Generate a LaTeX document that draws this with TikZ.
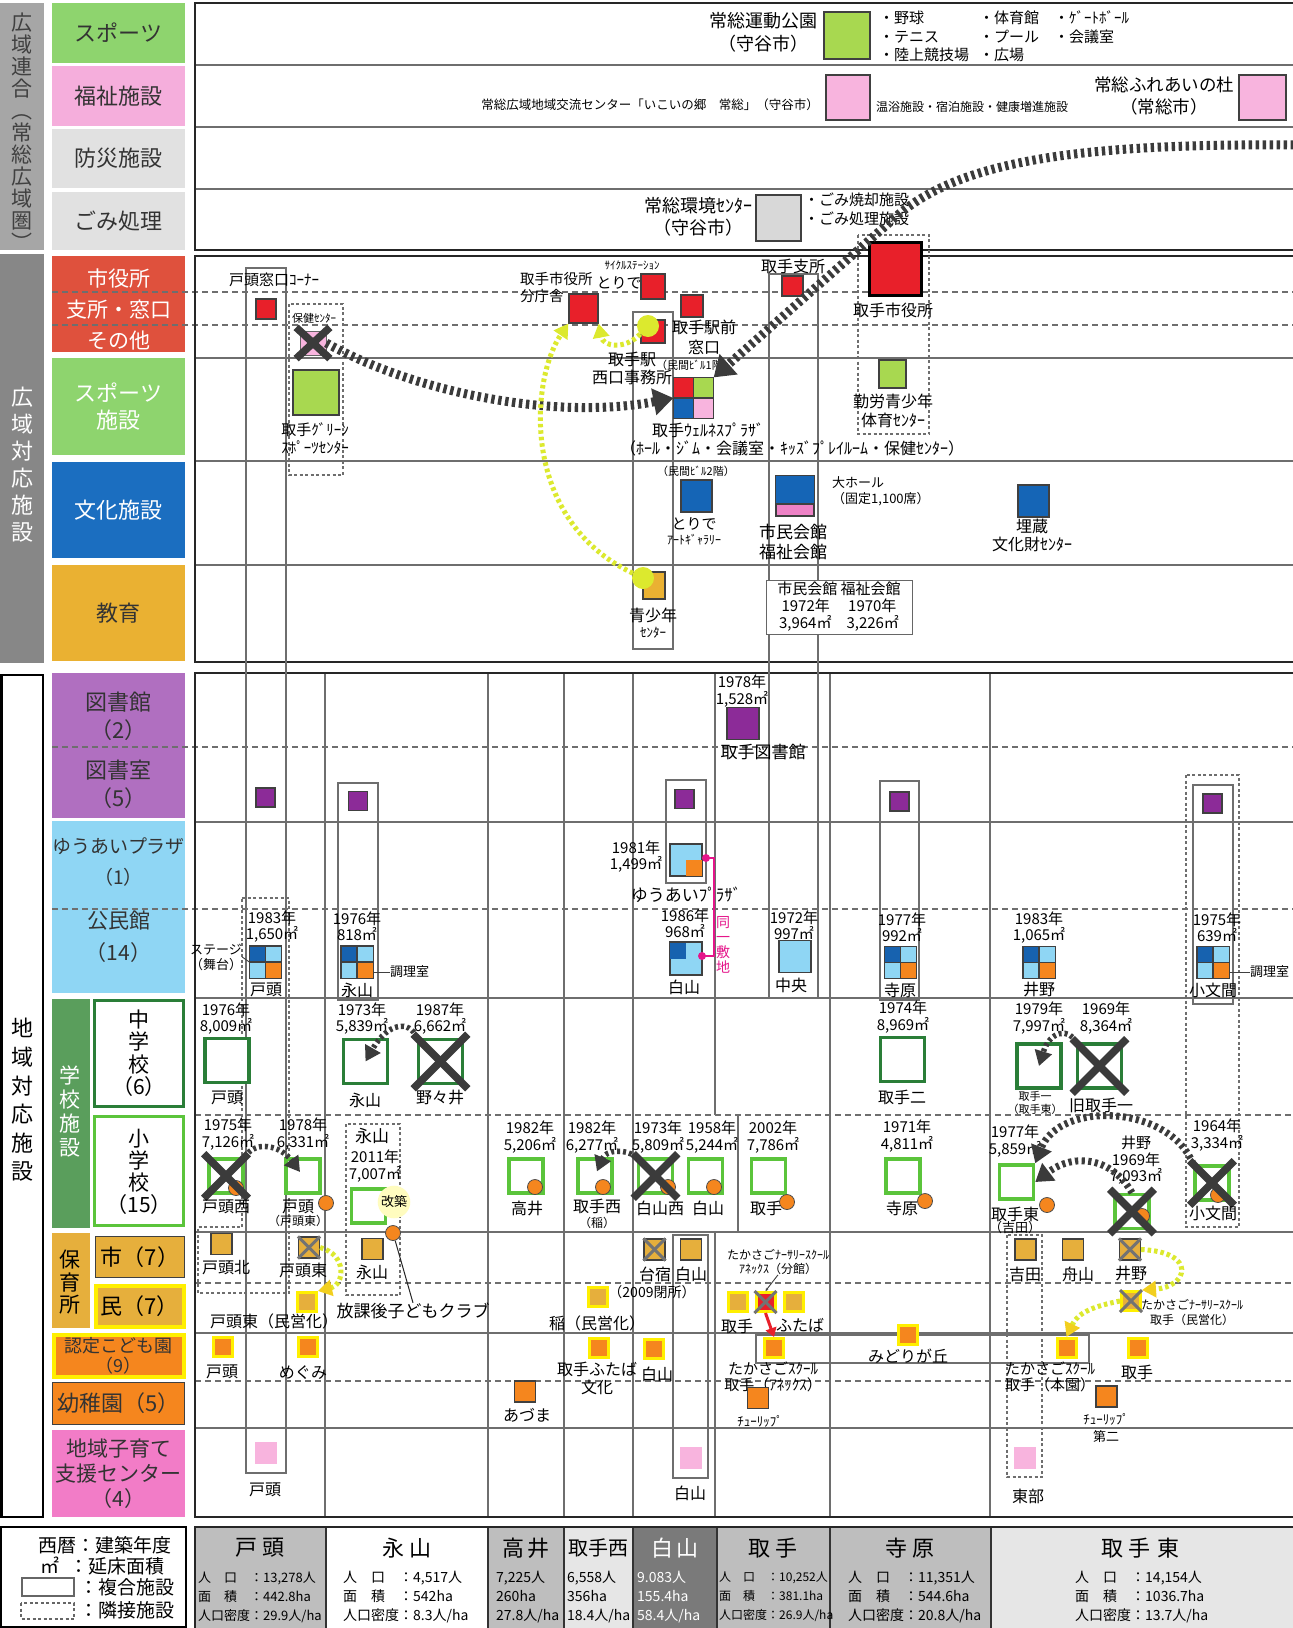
\documentclass[tikz,border=0pt]{standalone}
\usepackage{fontspec}
\setmainfont{Noto Sans CJK JP}
\usetikzlibrary{arrows.meta}

\definecolor{bandlt}{HTML}{A6A6A6}
\definecolor{banddk}{HTML}{878787}
\definecolor{catgreen}{HTML}{8ED46E}
\definecolor{catpink}{HTML}{F5AEDC}
\definecolor{catgray}{HTML}{E1E1E1}
\definecolor{catred}{HTML}{DF513D}
\definecolor{catblue}{HTML}{1B6EC0}
\definecolor{catorange}{HTML}{EAB132}
\definecolor{catpurple}{HTML}{B06FC0}
\definecolor{catsky}{HTML}{8FD6F4}
\definecolor{catschool}{HTML}{5A9E5C}
\definecolor{catkosodate}{HTML}{F27CC7}
\definecolor{fred}{HTML}{E8202A}
\definecolor{fgreen}{HTML}{A8D850}
\definecolor{fpink}{HTML}{F8B4DE}
\definecolor{fmagenta}{HTML}{EE82C6}
\definecolor{fgray}{HTML}{D8D8D8}
\definecolor{fblue}{HTML}{1565B6}
\definecolor{fpurple}{HTML}{8C2B98}
\definecolor{fnavy}{HTML}{1762AF}
\definecolor{forange}{HTML}{F5861E}
\definecolor{fhoiku}{HTML}{E6AF3C}
\definecolor{fyellow}{HTML}{FFEF00}
\definecolor{jhgreen}{HTML}{2A7E38}
\definecolor{esgreen}{HTML}{5BC43B}
\definecolor{kimidori}{HTML}{DCE92E}
\definecolor{kiiro}{HTML}{F2CF1E}
\definecolor{tie}{HTML}{3B3B3B}
\definecolor{linegray}{HTML}{6E6E6E}
\definecolor{tpink}{HTML}{E5158A}
\definecolor{tgray}{HTML}{BEBEBE}
\definecolor{tgraylt}{HTML}{E6E6E6}
\definecolor{tgraydk}{HTML}{7A7A7A}

\newcommand{\fsz}[2]{\fontsize{#1}{#2}\selectfont}
\newcommand{\batsu}[1]{%
  \draw[xline] (#1.north west) -- (#1.south east);
  \draw[xline] (#1.north east) -- (#1.south west);}
\newcommand{\gbatsu}[1]{%
  \draw[gx] (#1.north west) -- (#1.south east);
  \draw[gx] (#1.north east) -- (#1.south west);}
\newcommand{\kmk}[2]{%
  \node[fac, minimum size=31pt] (#1) at (#2) {};
  \fill[fnavy] (#1.north west) rectangle (#1.center);
  \fill[catsky] (#1.north) rectangle (#1.east);
  \fill[catsky] (#1.west) rectangle (#1.south);
  \fill[forange] (#1.center) rectangle (#1.south east);
  \draw[black!75, line width=1.2pt] (#1.north west) rectangle (#1.south east)
    (#1.north) -- (#1.south) (#1.west) -- (#1.east);}

\tikzset{
  cat/.style={fill=#1, inner sep=0pt, align=center, text=black!80, font=\fsz{22}{27}, minimum width=133pt},
  ctext/.style={inner sep=0pt, align=center, text=black!80, font=\fsz{22}{28}},
  vtext/.style={inner sep=0pt, align=center},
  fac/.style={draw=black!75, line width=1.2pt, inner sep=0pt},
  lbl/.style={inner sep=0pt, align=center, font=\fsz{16}{18}},
  yr/.style={inner sep=0pt, align=center, font=\fsz{15}{16.5}},
  tiny/.style={inner sep=0pt, align=center, font=\fsz{11}{12.5}},
  rule/.style={draw=linegray, line width=1.3pt},
  ruledash/.style={draw=linegray, line width=1.3pt, dash pattern=on 6pt off 4pt},
  frm/.style={draw=black!85, line width=2.5pt},
  col/.style={draw=linegray, line width=1.6pt},
  adj/.style={draw=linegray, line width=1.3pt, dash pattern=on 3pt off 2.5pt},
  jhs/.style={draw=jhgreen, line width=3.5pt, fill=white, inner sep=0pt, minimum size=44pt},
  els/.style={draw=esgreen, line width=3.5pt, fill=white, inner sep=0pt, minimum size=34pt},
  hoi/.style={fac, fill=fhoiku, minimum size=21pt},
  minei/.style={fill=fhoiku, draw=fyellow, line width=3pt, inner sep=0pt, minimum size=19pt},
  nintei/.style={fill=forange, draw=fyellow, line width=3pt, inner sep=0pt, minimum size=19pt},
  yochi/.style={fac, fill=forange, minimum size=21pt},
  kosodate/.style={fill=fpink, inner sep=0pt, minimum size=22pt},
  oc/.style={circle, fill=forange, draw=black!70, line width=0.8pt, inner sep=0pt, minimum size=15pt},
  yc/.style={circle, fill=kimidori, inner sep=0pt, minimum size=22pt},
  xline/.style={draw=tie, line width=7.5pt, shorten <=-5pt, shorten >=-5pt},
  gx/.style={draw=black!55, line width=3pt},
  leader/.style={draw=black!75, line width=0.9pt},
  tiearrow/.style={draw=tie, line width=9pt, dash pattern=on 3.4pt off 3.6pt,
    -{Triangle[length=20pt,width=26pt]}},
  tiearrowmd/.style={draw=tie, line width=7pt, dash pattern=on 3.2pt off 3.4pt,
    -{Triangle[length=17pt,width=21pt]}},
  tiearrowsm/.style={draw=tie, line width=5.5pt, dash pattern=on 3pt off 3pt,
    -{Triangle[length=15pt,width=17pt]}},
  ydot/.style={draw=kimidori, line width=5pt, dash pattern=on 3.5pt off 3pt,
    -{Triangle[length=14pt,width=16pt]}},
  ydotn/.style={draw=kimidori, line width=5pt, dash pattern=on 3.5pt off 3pt,
    -{Triangle[length=14pt,width=16pt,color=kiiro,fill=kiiro]}},
  tbl/.style={inner sep=0pt, align=left, anchor=west, font=\fsz{14}{19}},
  ttl/.style={inner sep=0pt, font=\fsz{22}{24}},
}

\begin{document}
\begin{tikzpicture}[x=1pt,y=-1pt]
  \useasboundingbox (0,0) rectangle (1293,1628);
  \fill[white] (0,0) rectangle (1293,1628);

  % side bands
  \fill[bandlt] (0,3) rectangle (44,250);
  \node[vtext, text=black!75, font=\fsz{21}{22}] (b-rengo) at (22,132) {広\\域\\連\\合\\︵\\常\\総\\広\\域\\圏\\︶};
  \fill[banddk] (0,254) rectangle (44,663);
  \node[vtext, text=white, font=\fsz{22}{27}] (b-kouiki) at (22,465) {広\\域\\対\\応\\施\\設};
  \draw[line width=2.5pt] (1.25,675) rectangle (43,1517);
  \node[vtext, font=\fsz{22}{28.6}] (b-chiiki) at (22,1100) {地\\域\\対\\応\\施\\設};

  % categories
  \node[cat=catgreen, minimum height=60pt] (c-sports) at (118.5,33) {スポーツ};
  \node[cat=catpink, minimum height=60pt] (c-fukushi) at (118.5,96) {福祉施設};
  \node[cat=catgray, minimum height=59pt] (c-bousai) at (118.5,158.5) {防災施設};
  \node[cat=catgray, minimum height=58pt] (c-gomi) at (118.5,221) {ごみ処理};
  \node[cat=catred, minimum height=96pt] (c-shiyaku) at (118.5,304) {};
  \node[ctext, text=white, font=\fsz{21}{31}] (t-shiyaku) at (118.5,309) {市役所\\支所・窓口\\その他};
  \node[cat=catgreen, text=white, minimum height=97pt] (c-sportf) at (118.5,406.5) {スポーツ\\施設};
  \node[cat=catblue, text=white, minimum height=96pt] (c-bunka) at (118.5,510) {文化施設};
  \node[cat=catorange, minimum height=96pt] (c-kyoiku) at (118.5,613) {教育};
  \node[cat=catpurple, minimum height=145pt] (c-tosho) at (118.5,745.5) {};
  \node[ctext] (t-tosho1) at (118.5,716) {図書館\\（2）};
  \node[ctext] (t-tosho2) at (118.5,784) {図書室\\（5）};
  \node[cat=catsky, minimum height=172pt] (c-kominkan) at (118.5,907) {};
  \node[ctext, font=\fsz{19}{31}] (t-yuai) at (118.5,862.5) {ゆうあいプラザ\\（1）};
  \node[ctext, font=\fsz{21}{32}] (t-kominkan) at (118.5,937) {公民館\\（14）};
  \node[fill=catschool, inner sep=0pt, minimum width=38pt, minimum height=229pt] (c-gakko) at (71,1113.5) {};
  \node[vtext, text=white, font=\fsz{21}{24}] (t-gakko) at (70,1111) {学\\校\\施\\設};
  \node[draw=jhgreen, line width=3.5pt, inner sep=0pt, minimum width=89pt, minimum height=106pt] (c-chugaku) at (139,1053.5) {};
  \node[vtext, font=\fsz{21}{22.5}] (t-chugaku) at (139,1053) {中\\学\\校\\（6）};
  \node[draw=esgreen, line width=3.5pt, inner sep=0pt, minimum width=89pt, minimum height=109pt] (c-shogaku) at (139,1171) {};
  \node[vtext, font=\fsz{21}{22}] (t-shogaku) at (139,1172) {小\\学\\校\\（15）};
  \node[fill=fhoiku, inner sep=0pt, minimum width=38pt, minimum height=95pt] (c-hoiku) at (71,1280.5) {};
  \node[vtext, font=\fsz{21}{22.5}] (t-hoiku) at (70,1282.5) {保\\育\\所};
  \node[fac, fill=fhoiku, minimum width=89pt, minimum height=41pt, font=\fsz{22}{24}] (c-shi) at (140,1257) {市（7）};
  \node[fill=fhoiku, draw=fyellow, line width=4pt, inner sep=0pt, minimum width=88pt, minimum height=41pt, font=\fsz{22}{24}] (c-min) at (139.5,1306) {民（7）};
  \node[cat=forange, draw=fyellow, line width=4pt, minimum width=130pt, minimum height=42pt, font=\fsz{18}{20}] (c-nintei) at (118.5,1355.5) {認定こども園\\（9）};
  \node[cat=forange, draw=black!75, line width=1.5pt, minimum width=132pt, minimum height=42pt] (c-yochi) at (118.5,1403.5) {幼稚園（5）};
  \node[cat=catkosodate, minimum height=87pt, font=\fsz{21}{25}] (c-kosodate) at (118.5,1473.5) {地域子育て\\支援センター\\（4）};

  % section 1 frame
  \draw[rule] (195,65) -- (1293,65) (195,127) -- (1293,127) (195,189) -- (1293,189);
  \draw[frm] (195,3) rectangle (1294,250);

  % section 2 frame
  \draw[rule] (195,358) -- (1293,358) (195,461) -- (1293,461) (195,565) -- (1293,565);
  \draw[ruledash] (52,292) -- (1293,292) (52,325) -- (1293,325);
  \draw[frm] (195,256) rectangle (1294,662);

  % section 3 frame
  \draw[rule] (195,822) -- (1293,822) (195,998) -- (1293,998) (195,1232) -- (1293,1232)
    (195,1333) -- (1293,1333) (195,1428) -- (1293,1428);
  \draw[ruledash] (52,747) -- (1293,747) (52,909) -- (1293,909) (195,1115) -- (1293,1115)
    (195,1283) -- (1293,1283) (195,1381) -- (1293,1381);
  \draw[rule] (325,673) -- (325,1517) (488,673) -- (488,1517) (564,673) -- (564,1517)
    (633,673) -- (633,1517) (830,673) -- (830,1517) (990,673) -- (990,1517)
    (715,673) -- (715,1115) (738,1115) -- (738,1232) (715,1232) -- (715,1517);
  \draw[frm] (195,673) rectangle (1294,1517);

  % composite and adjacent outlines
  \draw[col] (246,268) rectangle (286,1473);
  \draw[col] (633,312) rectangle (673,649);
  \draw[col] (769,274) rectangle (818,998);
  \draw[col] (338,783) rectangle (378,1000);
  \draw[col] (666,780) rectangle (706,883);
  \draw[col] (880,781) rectangle (919,1000);
  \draw[col] (1193,785) rectangle (1233,1004);
  \draw[col] (673,1235) rectangle (708,1478);
  \draw[col] (756,1335) rectangle (1089,1363);
  \draw[adj] (289,304) rectangle (343,475);
  \draw[adj] (858,235) rectangle (929,434);
  \draw[adj] (1186,775) rectangle (1239,1227);
  \draw[adj] (1007,1235) rectangle (1042,1477);
  \draw[adj] (346,1124) rectangle (400,1295);
  \draw[adj] (242,898) -- (289,898) -- (289,1293) -- (198,1293) -- (198,1227) -- (242,1227) -- cycle;

  % section 1 contents
  \node[lbl, font=\fsz{18}{23}] (t-undo) at (763,32.5) {常総運動公園\\（守谷市）};
  \node[fac, fill=fgreen, minimum width=46pt, minimum height=47pt] (undo) at (847,35.5) {};
  \node[lbl, align=left, anchor=west, font=\fsz{15}{18.5}] (t-undo1) at (879,36.5) {・野球\\・テニス\\・陸上競技場};
  \node[lbl, align=left, anchor=west, font=\fsz{15}{18.5}] (t-undo2) at (979,36.5) {・体育館\\・プール\\・広場};
  \node[lbl, align=left, anchor=west, font=\fsz{15}{18.5}] (t-undo3) at (1054,27.5) {・ｹﾞｰﾄﾎﾞｰﾙ\\・会議室};
  \node[lbl, font=\fsz{12.5}{14}] (t-ikoi) at (650,105) {常総広域地域交流センター「いこいの郷　常総」（守谷市）};
  \node[fac, fill=fpink, minimum width=44pt, minimum height=45pt] (ikoi) at (848,97.5) {};
  \node[lbl, anchor=west, font=\fsz{12}{14}] (t-ikoi2) at (876,107) {温浴施設・宿泊施設・健康増進施設};
  \node[lbl, font=\fsz{17.5}{22}] (t-fureai) at (1164,96) {常総ふれあいの杜\\（常総市）};
  \node[fac, fill=fpink, minimum width=47pt, minimum height=45pt] (fureai) at (1262.5,97.5) {};
  \node[lbl, font=\fsz{18}{22}] (t-kankyo) at (698,217) {常総環境ｾﾝﾀｰ\\（守谷市）};
  \node[fac, fill=fgray, minimum width=45pt, minimum height=46pt] (kankyo) at (778.5,218) {};
  \node[lbl, align=left, anchor=west, font=\fsz{15}{18.5}] (t-kankyo2) at (804,209.5) {・ごみ焼却施設\\・ごみ処理施設};

  % section 2 contents
  \node[lbl, font=\fsz{15}{17}] (t-todemado) at (274,280) {戸頭窓口ｺｰﾅｰ};
  \node[fac, fill=fred, minimum size=20pt] (todemado) at (266,309) {};
  \node[fill=fpink, draw=black!60, inner sep=0pt, minimum width=26pt, minimum height=24pt] (hoken) at (313,343) {};
  \node[tiny] (t-hoken) at (314,318) {保健ｾﾝﾀｰ};
  \node[fac, fill=fgreen, minimum width=46pt, minimum height=45pt] (green) at (316,392.5) {};
  \node[lbl, font=\fsz{15}{18}] (t-green) at (315,439) {取手ｸﾞﾘｰﾝ\\ｽﾎﾟｰﾂｾﾝﾀｰ};
  \node[lbl, align=left, anchor=west, font=\fsz{14.5}{17}] (t-bunchosha) at (520,287) {取手市役所\\分庁舎};
  \node[fac, fill=fred, minimum size=29pt] (bunchosha) at (583.5,308.5) {};
  \node[tiny] (t-cycle1) at (632,265) {ｻｲｸﾙｽﾃｰｼｮﾝ};
  \node[lbl, font=\fsz{15}{17}] (t-cycle2) at (619,283) {とりで};
  \node[fac, fill=fred, minimum width=24pt, minimum height=25pt] (cycle) at (653,286.5) {};
  \node[fac, fill=fred, minimum width=24pt, minimum height=23pt] (nishiguchi) at (653,331.5) {};
  \node[yc] (yc1) at (648,326) {};
  \node[lbl] (t-nishiguchi) at (632,368) {取手駅\\西口事務所};
  \node[fac, fill=fred, minimum size=22pt] (ekimae) at (692,306) {};
  \node[lbl, font=\fsz{16}{20}] (t-ekimae) at (704,337) {取手駅前\\窓口};
  \node[tiny] (t-minkan1) at (695,365) {（民間ﾋﾞﾙ1階）};
  \node[fac, minimum width=39pt, minimum height=40pt] (wellness) at (693.5,398) {};
  \fill[fred] (wellness.north west) rectangle (wellness.center);
  \fill[fgreen] (wellness.north) rectangle (wellness.east);
  \fill[fblue] (wellness.west) rectangle (wellness.south);
  \fill[fpink] (wellness.center) rectangle (wellness.south east);
  \draw[black!75, line width=1.2pt] (wellness.north west) rectangle (wellness.south east)
    (wellness.north) -- (wellness.south) (wellness.west) -- (wellness.east);
  \node[lbl] (t-wellness) at (708,430) {取手ｳｪﾙﾈｽﾌﾟﾗｻﾞ};
  \node[lbl] (t-wellness2) at (792,448) {（ﾎｰﾙ・ｼﾞﾑ・会議室・ｷｯｽﾞﾌﾟﾚｲﾙｰﾑ・保健ｾﾝﾀｰ）};
  \node[lbl] (t-shisho) at (793,266) {取手支所};
  \node[fac, fill=fred, minimum width=21pt, minimum height=20pt] (shisho) at (792.5,286) {};
  \node[fill=fred, draw=black, line width=3pt, inner sep=0pt, minimum width=52pt, minimum height=53pt] (shiyakusho) at (895,268.5) {};
  \node[lbl] (t-shiyakusho) at (893,310) {取手市役所};
  \node[fac, fill=fgreen, minimum width=27pt, minimum height=28pt] (kinro) at (892.5,374) {};
  \node[lbl, font=\fsz{16}{19}] (t-kinro) at (893,410.5) {勤労青少年\\体育ｾﾝﾀｰ};
  \node[tiny] (t-minkan2) at (696,471) {（民間ﾋﾞﾙ2階）};
  \node[fac, fill=fblue, minimum width=31pt, minimum height=32pt] (gallery) at (696.5,496) {};
  \node[lbl, font=\fsz{15}{16}] (t-gallery) at (694,524) {とりで};
  \node[lbl, font=\fsz{12}{14}] (t-gallery2) at (694,540) {ｱｰﾄｷﾞｬﾗﾘｰ};
  \fill[fmagenta] (776,504) rectangle (814,516);
  \node[fac, minimum width=38pt, minimum height=40pt] (kaikan) at (795,496) {};
  \fill[fblue] (kaikan.north west) rectangle (814,504);
  \draw[black!75, line width=1.2pt] (kaikan.north west) rectangle (kaikan.south east) (776,504) -- (814,504);
  \node[lbl, align=left, anchor=west, font=\fsz{13}{15.5}] (t-hall) at (832,491.5) {大ホール\\（固定1,100席）};
  \node[lbl, font=\fsz{17}{20}] (t-kaikan) at (793,542) {市民会館\\福祉会館};
  \node[fac, fill=fblue, minimum width=31pt, minimum height=32pt] (maizo) at (1033.5,501) {};
  \node[lbl] (t-maizo) at (1032,535) {埋蔵\\文化財ｾﾝﾀｰ};
  \node[fac, fill=catorange, minimum width=22pt, minimum height=27pt] (seishonen) at (654,585.5) {};
  \node[yc] (yc2) at (643,578) {};
  \node[lbl, font=\fsz{16}{18}] (t-seishonen) at (653,615) {青少年};
  \node[lbl, font=\fsz{13}{15}] (t-seishonen2) at (653,633) {ｾﾝﾀｰ};
  \node[draw=black!60, line width=1pt, fill=white, inner sep=0pt, minimum width=146pt, minimum height=54pt, align=center, font=\fsz{15}{17}] (kaikanbox) at (839,607) {市民会館 福祉会館\\1972年　 1970年\\3,964㎡　3,226㎡};

  % section 3: libraries
  \node[yr] (t-toshokan1) at (742,691) {1978年\\1,528㎡};
  \node[fac, fill=fpurple, minimum size=32pt] (toshokan) at (743,723.5) {};
  \node[lbl, font=\fsz{17}{19}] (t-toshokan) at (763,752) {取手図書館};
  \node[fac, fill=fpurple, minimum size=19pt] (r-tode) at (265.5,797.5) {};
  \node[fac, fill=fpurple, minimum size=19pt] (r-naga) at (358,801) {};
  \node[fac, fill=fpurple, minimum size=19pt] (r-haku) at (684.5,799) {};
  \node[fac, fill=fpurple, minimum size=19pt] (r-tera) at (899.5,801.5) {};
  \node[fac, fill=fpurple, minimum size=19pt] (r-mon) at (1212.5,803.5) {};

  % yuai plaza and community centres
  \node[yr] (t-yuai1) at (636,856.5) {1981年\\1,499㎡};
  \node[fac, fill=catsky, minimum size=32pt] (yuai) at (686,860) {};
  \fill[forange] (yuai.center) rectangle (yuai.south east);
  \draw[black!75, line width=1.2pt] (yuai.north west) rectangle (yuai.south east);
  \node[lbl, font=\fsz{17}{19}] (t-yuai2) at (686,895) {ゆうあいﾌﾟﾗｻﾞ};
  \kmk{k-tode}{265.5,962}
  \kmk{k-naga}{357,962}
  \kmk{k-tera}{900.5,962.5}
  \kmk{k-ino}{1039,962.5}
  \kmk{k-mon}{1213,962.5}
  \node[fac, fill=catsky, minimum size=32pt] (k-haku) at (686,958.5) {};
  \fill[fnavy] (k-haku.north west) rectangle (k-haku.center);
  \draw[black!75, line width=1.2pt] (k-haku.north west) rectangle (k-haku.south east);
  \node[fac, fill=catsky, minimum size=32pt] (k-chuo) at (795,956.5) {};
  \node[yr] (t-ktode1) at (272,926.5) {1983年\\1,650㎡};
  \node[lbl] (t-ktode2) at (266,990) {戸頭};
  \node[lbl, font=\fsz{13}{15}] (t-stage) at (216,957) {ステージ\\（舞台）};
  \draw[leader] (t-stage.east) -- (k-tode.west);
  \node[yr] (t-knaga1) at (357,926.5) {1976年\\818㎡};
  \node[lbl] (t-knaga2) at (357,990) {永山};
  \node[lbl, anchor=west, font=\fsz{13}{15}] (t-chori1) at (390,972) {調理室};
  \draw[leader] (t-chori1.west) -- (k-naga.east |- t-chori1.west);
  \node[yr] (t-khaku1) at (685,923.5) {1986年\\968㎡};
  \node[lbl] (t-khaku2) at (684,987) {白山};
  \node[yr] (t-kchuo1) at (794,925.5) {1972年\\997㎡};
  \node[lbl] (t-kchuo2) at (791,985) {中央};
  \node[yr] (t-ktera1) at (902,927.5) {1977年\\992㎡};
  \node[lbl] (t-ktera2) at (900,990) {寺原};
  \node[yr] (t-kino1) at (1039,927.5) {1983年\\1,065㎡};
  \node[lbl] (t-kino2) at (1039,990) {井野};
  \node[yr] (t-kmon1) at (1217,927.5) {1975年\\639㎡};
  \node[lbl] (t-kmon2) at (1213,990) {小文間};
  \node[lbl, anchor=west, font=\fsz{13}{15}] (t-chori2) at (1250,972) {調理室};
  \draw[leader] (t-chori2.west) -- (k-mon.east |- t-chori2.west);
  \node[circle, fill=tpink, inner sep=0pt, minimum size=8pt] (d-yuai) at (706,858) {};
  \node[circle, fill=tpink, inner sep=0pt, minimum size=8pt] (d-haku) at (702,956) {};
  \draw[tpink, line width=1.5pt] (d-yuai.center) -- ++(8,0) |- (d-haku.center);
  \node[vtext, text=tpink, font=\fsz{14}{15}] (t-shikichi) at (723,944.5) {同\\一\\敷\\地};

  % junior high schools
  \node[jhs] (j-tode) at (227,1060.5) {};
  \node[yr] (t-jtode1) at (226,1018.5) {1976年\\8,009㎡};
  \node[lbl] (t-jtode2) at (227,1098) {戸頭};
  \node[jhs] (j-naga) at (365.5,1061.5) {};
  \node[yr] (t-jnaga1) at (362,1018.5) {1973年\\5,839㎡};
  \node[lbl] (t-jnaga2) at (365,1100) {永山};
  \node[jhs] (j-nonoi) at (440.5,1061.5) {};
  \batsu{j-nonoi}
  \node[yr] (t-jnonoi1) at (440,1018.5) {1987年\\6,662㎡};
  \node[lbl] (t-jnonoi2) at (440,1098) {野々井};
  \node[jhs] (j-toride2) at (902.5,1059.5) {};
  \node[yr] (t-jtoride21) at (903,1017) {1974年\\8,969㎡};
  \node[lbl] (t-jtoride22) at (902,1097) {取手二};
  \node[jhs] (j-toride1) at (1039,1066) {};
  \node[yr] (t-jtoride11) at (1039,1018) {1979年\\7,997㎡};
  \node[tiny] (t-jtoride12) at (1035,1103) {取手一\\（取手東）};
  \node[jhs] (j-kyu) at (1099.5,1066) {};
  \batsu{j-kyu}
  \node[yr] (t-jkyu1) at (1106,1018) {1969年\\8,364㎡};
  \node[lbl] (t-jkyu2) at (1101,1105) {旧取手一};

  % elementary schools
  \node[els] (e-tnishi) at (226,1176) {};
  \node[oc] (oc-tnishi) at (236,1188) {};
  \batsu{e-tnishi}
  \node[yr] (t-etnishi1) at (228,1134) {1975年\\7,126㎡};
  \node[lbl] (t-etnishi2) at (226,1207) {戸頭西};
  \node[els] (e-tode) at (303,1176) {};
  \node[oc] (oc-tode) at (326,1203) {};
  \node[yr] (t-etode1) at (303,1134) {1978年\\6,331㎡};
  \node[lbl] (t-etode2) at (298,1207) {戸頭};
  \node[lbl, font=\fsz{12}{14}] (t-etode3) at (298,1221) {（戸頭東）};
  \node[lbl, font=\fsz{17}{19}] (t-enaga1) at (372,1136) {永山};
  \node[yr] (t-enaga2) at (375,1166) {2011年\\7,007㎡};
  \node[els] (e-naga) at (368.5,1206) {};
  \node[circle, fill=yellow!25, inner sep=1.5pt, font=\fsz{13}{14}] (kaichiku) at (394,1202) {改築};
  \node[oc] (oc-naga) at (393,1233) {};
  \node[lbl, font=\fsz{17}{19}] (t-houkago) at (413,1311) {放課後子どもクラブ};
  \draw[black!85, line width=1pt] (oc-naga) -- (t-houkago.north);
  \node[els] (e-takai) at (526,1176) {};
  \node[oc] (oc-takai) at (535,1187) {};
  \node[yr] (t-etakai1) at (530,1137) {1982年\\5,206㎡};
  \node[lbl] (t-etakai2) at (527,1208) {高井};
  \node[els] (e-tnishi2) at (595,1176) {};
  \node[oc] (oc-tnishi2) at (603,1187) {};
  \node[yr] (t-etnishi21) at (592,1137) {1982年\\6,277㎡};
  \node[lbl] (t-etnishi22) at (597,1206) {取手西};
  \node[lbl, font=\fsz{12}{14}] (t-etnishi23) at (597,1223) {（稲）};
  \node[els] (e-hnishi) at (655.5,1176) {};
  \node[oc] (oc-hnishi) at (668,1187) {};
  \batsu{e-hnishi}
  \node[yr] (t-ehnishi1) at (658,1137) {1973年\\5,809㎡};
  \node[lbl] (t-ehnishi2) at (660,1208) {白山西};
  \node[els] (e-haku) at (705.5,1176) {};
  \node[oc] (oc-haku) at (714,1187) {};
  \node[yr] (t-ehaku1) at (712,1137) {1958年\\5,244㎡};
  \node[lbl] (t-ehaku2) at (708,1208) {白山};
  \node[els] (e-toride) at (768.5,1176) {};
  \node[oc] (oc-toride) at (787,1202) {};
  \node[yr] (t-etoride1) at (773,1137) {2002年\\7,786㎡};
  \node[lbl] (t-etoride2) at (766,1208) {取手};
  \node[els] (e-tera) at (903,1176) {};
  \node[oc] (oc-tera) at (925,1201) {};
  \node[yr] (t-etera1) at (907,1136) {1971年\\4,811㎡};
  \node[lbl] (t-etera2) at (902,1208) {寺原};
  \node[els] (e-thigashi) at (1016.5,1182) {};
  \node[oc] (oc-thigashi) at (1047,1205) {};
  \node[yr] (t-ethigashi1) at (1015,1141) {1977年\\5,859㎡};
  \node[lbl] (t-ethigashi2) at (1015,1214) {取手東};
  \node[lbl, font=\fsz{13}{14}] (t-ethigashi3) at (1015,1228) {（吉田）};
  \node[els] (e-ino) at (1132,1211.5) {};
  \node[oc] (oc-ino) at (1142,1216) {};
  \batsu{e-ino}
  \node[yr] (t-eino1) at (1136,1160.5) {井野\\1969年\\7,093㎡};
  \node[els] (e-mon) at (1212,1183) {};
  \node[oc] (oc-mon) at (1218,1195) {};
  \batsu{e-mon}
  \node[yr] (t-emon1) at (1217,1135) {1964年\\3,334㎡};
  \node[lbl] (t-emon2) at (1213,1213) {小文間};

  % nursery schools
  \node[hoi] (h-tkita) at (221.5,1244) {};
  \node[lbl] (t-htkita) at (226,1268) {戸頭北};
  \node[hoi] (h-thigashi) at (309,1247.5) {};
  \gbatsu{h-thigashi}
  \node[lbl] (t-hthigashi) at (303,1270) {戸頭東};
  \node[hoi] (h-naga) at (372.5,1249) {};
  \node[lbl] (t-hnaga) at (372,1272) {永山};
  \node[hoi] (h-daijuku) at (654.5,1249.5) {};
  \gbatsu{h-daijuku}
  \node[lbl] (t-hdaijuku) at (655,1274) {台宿};
  \node[lbl, font=\fsz{14}{16}] (t-hdaijuku2) at (652,1292) {（2009閉所）};
  \node[hoi] (h-haku) at (691,1249.5) {};
  \node[lbl] (t-hhaku) at (691,1274) {白山};
  \node[hoi] (h-yoshida) at (1025.5,1249.5) {};
  \node[lbl] (t-hyoshida) at (1025,1274) {吉田};
  \node[hoi] (h-funa) at (1073,1249.5) {};
  \node[lbl] (t-hfuna) at (1078,1274) {舟山};
  \node[hoi] (h-ino) at (1130,1249.5) {};
  \gbatsu{h-ino}
  \node[lbl] (t-hino) at (1131,1274) {井野};

  \node[minei] (m-thigashi) at (307,1302) {};
  \node[lbl] (t-mthigashi) at (274,1321) {戸頭東（民営化）};
  \node[minei] (m-ina) at (598,1297) {};
  \node[lbl] (t-mina) at (597,1323) {稲（民営化）};
  \node[tiny, font=\fsz{12}{14}] (t-annex) at (778,1262) {たかさごﾅｰｻﾘｰｽｸｰﾙ\\ｱﾈｯｸｽ（分館）};
  \node[minei] (m-toride) at (738,1302) {};
  \node[lbl] (t-mtoride) at (737,1326) {取手};
  \node[minei, fill=fred] (m-takasago) at (765.5,1302) {};
  \gbatsu{m-takasago}
  \node[minei] (m-futaba) at (794,1302) {};
  \node[lbl] (t-mfutaba) at (800,1325) {ふたば};
  \draw[leader, -{Stealth[length=3pt,width=3pt]}] (t-annex.south) -- (m-takasago.north);
  \node[minei] (m-takasago2) at (1131,1301) {};
  \gbatsu{m-takasago2}
  \node[tiny, font=\fsz{12}{15}] (t-mtakasago2) at (1192,1313) {たかさごﾅｰｻﾘｰｽｸｰﾙ\\取手（民営化）};

  % kodomo-en and kindergartens
  \node[nintei] (n-tode) at (222.5,1347) {};
  \node[lbl] (t-ntode) at (222,1372) {戸頭};
  \node[nintei] (n-megumi) at (307.5,1347) {};
  \node[lbl] (t-nmegumi) at (303,1373) {めぐみ};
  \node[nintei] (n-futaba) at (598.5,1347.5) {};
  \node[lbl] (t-nfutaba) at (597,1378) {取手ふたば\\文化};
  \node[nintei] (n-haku) at (654,1348.5) {};
  \node[lbl] (t-nhaku) at (657,1374) {白山};
  \node[nintei] (n-annex) at (774,1348) {};
  \node[lbl, font=\fsz{15}{16}] (t-nannex) at (773,1377) {たかさごｽｸｰﾙ\\取手（ｱﾈｯｸｽ）};
  \node[nintei] (n-midori) at (907.5,1335) {};
  \node[lbl] (t-nmidori) at (908,1356) {みどりが丘};
  \node[nintei] (n-honen) at (1066.5,1348) {};
  \node[lbl, font=\fsz{15}{16}] (t-nhonen) at (1050,1377) {たかさごｽｸｰﾙ\\取手（本園）};
  \node[nintei] (n-toride) at (1137.5,1348) {};
  \node[lbl] (t-ntoride) at (1137,1372) {取手};
  \node[yochi] (y-azuma) at (525,1391.5) {};
  \node[lbl] (t-yazuma) at (527,1415) {あづま};
  \node[yochi] (y-tulip) at (758,1398) {};
  \node[lbl, font=\fsz{13}{15}] (t-ytulip) at (760,1421) {ﾁｭｰﾘｯﾌﾟ};
  \node[yochi] (y-tulip2) at (1106.5,1396.5) {};
  \node[lbl, font=\fsz{13}{17}] (t-ytulip2) at (1106,1428) {ﾁｭｰﾘｯﾌﾟ\\第二};

  % child-rearing support centres
  \node[kosodate] (s-tode) at (265.5,1452.5) {};
  \node[lbl] (t-stode) at (265,1490) {戸頭};
  \node[kosodate] (s-haku) at (691,1458) {};
  \node[lbl] (t-shaku) at (690,1493) {白山};
  \node[kosodate] (s-tobu) at (1025,1458) {};
  \node[lbl] (t-stobu) at (1028,1496) {東部};

  % moves and mergers
  \coordinate (eastend) at (1294,145);
  \draw[tiearrow] (eastend) .. controls (1060,143) and (950,165) .. (890,222) -- (wellness.north east);
  \draw[xline] (hoken.north west) -- (hoken.south east);
  \draw[xline] (hoken.north east) -- (hoken.south west);
  \draw[tiearrow] (hoken.east) .. controls (420,395) and (560,420) .. (wellness.west);
  \draw[ydot] (yc2) .. controls (520,520) and (530,380) .. (bunchosha.south west);
  \draw[ydot] (yc1) .. controls (625,350) and (603,347) .. (bunchosha.south east);
  \draw[tiearrowsm] (j-nonoi.north west) .. controls (410,1020) and (388,1022) .. (j-naga.center);
  \draw[tiearrowsm] (j-kyu.north west) .. controls (1070,1028) and (1050,1030) .. (j-toride1.center);
  \draw[tiearrowsm, shorten >=5pt] (e-tnishi.north east) .. controls (255,1140) and (280,1145) .. (e-tode.center);
  \draw[tiearrowsm, shorten >=5pt] (e-hnishi.north west) .. controls (625,1148) and (606,1150) .. (e-tnishi2.center);
  \draw[tiearrowmd] (e-mon.north west) .. controls (1170,1105) and (1060,1100) .. (e-thigashi.north east);
  \draw[tiearrowmd] (e-ino.north) .. controls (1112,1158) and (1075,1152) .. (e-thigashi.east);
  \draw[ydotn] (h-thigashi.east) .. controls (348,1255) and (344,1285) .. (m-thigashi.north east);
  \draw[ydotn] (h-ino.east) .. controls (1198,1252) and (1188,1287) .. (m-takasago2.north east);
  \draw[ydotn] (m-takasago2.west) .. controls (1095,1306) and (1078,1312) .. (n-honen.north);
  \draw[fred, line width=3pt, -{Triangle[length=9pt,width=11pt]}] (m-takasago.south) -- (n-annex.north);

  % bottom table
  \fill[tgray] (195,1527) rectangle (326,1628);
  \fill[tgray] (488,1527) rectangle (564,1628);
  \fill[tgraylt] (564,1527) rectangle (633,1628);
  \fill[tgraydk] (633,1527) rectangle (717,1628);
  \fill[tgray] (717,1527) rectangle (991,1628);
  \fill[tgraylt] (991,1527) rectangle (1293,1628);
  \draw[line width=1.5pt, black!80] (326,1527) -- (326,1628) (488,1527) -- (488,1628) (564,1527) -- (564,1628)
    (633,1527) -- (633,1628) (717,1527) -- (717,1628) (830,1527) -- (830,1628) (991,1527) -- (991,1628);
  \draw[frm] (195,1527) rectangle (1294,1629);
  \node[ttl] (h-tode) at (260,1548) {戸\hspace{6pt}頭};
  \node[ttl] (h-naga) at (407,1548) {永\hspace{6pt}山};
  \node[ttl] (h-takai) at (526,1548) {高\hspace{3pt}井};
  \node[ttl, font=\fsz{20}{22}] (h-tnishi) at (598,1548) {取手西};
  \node[ttl, text=white] (h-haku) at (675,1548) {白\hspace{3pt}山};
  \node[ttl] (h-toride) at (773,1548) {取\hspace{6pt}手};
  \node[ttl] (h-tera) at (910,1548) {寺\hspace{6pt}原};
  \node[ttl] (h-thigashi) at (1140,1548) {取\hspace{6pt}手\hspace{6pt}東};
  \node[tbl, font=\fsz{13}{19}] (d-tode) at (198,1597) {人　口　：13,278人\\面　積　：442.8ha\\人口密度：29.9人/ha};
  \node[tbl] (d-naga) at (343,1597) {人　口　：4,517人\\面　積　：542ha\\人口密度：8.3人/ha};
  \node[tbl] (d-takai) at (496,1597) {7,225人\\260ha\\27.8人/ha};
  \node[tbl] (d-tnishi) at (567,1597) {6,558人\\356ha\\18.4人/ha};
  \node[tbl, text=white] (d-haku) at (637,1597) {9.083人\\155.4ha\\58.4人/ha};
  \node[tbl, font=\fsz{12}{19}] (d-toride) at (719,1597) {人　口　：10,252人\\面　積　：381.1ha\\人口密度：26.9人/ha};
  \node[tbl] (d-tera) at (848,1597) {人　口　：11,351人\\面　積　：544.6ha\\人口密度：20.8人/ha};
  \node[tbl] (d-thigashi) at (1075,1597) {人　口　：14,154人\\面　積　：1036.7ha\\人口密度：13.7人/ha};

  % legend
  \draw[line width=2pt] (1,1527) rectangle (186,1627);
  \node[lbl, anchor=west, font=\fsz{19}{21}] (g-year) at (38,1545) {西暦：建築年度};
  \node[lbl, anchor=west, font=\fsz{19}{21}] (g-area) at (40,1566) {㎡\hspace{10pt}：延床面積};
  \draw[line width=1.5pt, black!60] (22,1578) rectangle (74,1596);
  \node[lbl, anchor=west, font=\fsz{19}{21}] (g-comp) at (79,1587) {：複合施設};
  \draw[line width=1.3pt, black!60, dash pattern=on 3pt off 2.5pt] (21,1603) rectangle (74,1619);
  \node[lbl, anchor=west, font=\fsz{19}{21}] (g-adj) at (79,1610) {：隣接施設};
\end{tikzpicture}
\end{document}
